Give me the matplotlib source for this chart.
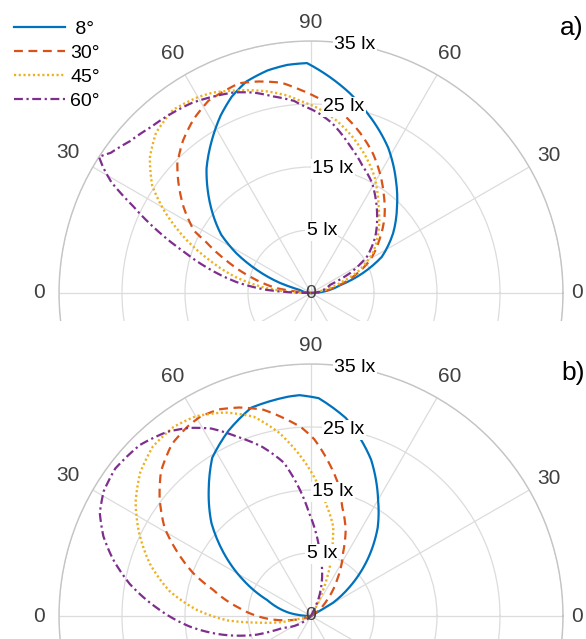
import numpy as np
import matplotlib
matplotlib.use("Agg")
import matplotlib.pyplot as plt
from matplotlib.patches import Rectangle
from matplotlib.lines import Line2D

plt.rcParams['font.family'] = ['Liberation Sans', 'DejaVu Sans']

# ---------------- data (angle in degrees, illuminance in lx) ----------------
series_labels = [' 8°', '30°', '45°', '60°']

# panel a)
a_theta_8 = [0, 15, 21, 27, 36, 45, 53, 62, 72, 79, 91, 96, 101, 107, 112, 117,
             123, 130, 135, 141, 147, 152, 157, 162, 165, 180]
a_lux_8 = [-5, -0.2, 3.8, 7.6, 11.1, 14.3, 17.4, 21.1, 24.7, 27.3, 31.5, 31.4,
           31.0, 30.1, 28.6, 26.6, 23.9, 20.8, 18.2, 15.1, 12.0, 8.4, 4.3, 0.2, -3.2, -5]

a_theta_30 = [0, 13, 21, 29, 38, 46, 54, 60, 66, 73, 80, 88, 93, 98, 104, 109, 113,
              118, 124, 130, 136, 140, 146, 152, 154, 159, 165, 172, 175, 180]
a_lux_30 = [-5, -1.4, 2.1, 5.7, 8.8, 11.8, 14.6, 16.9, 19.2, 21.6, 23.9, 26.0, 27.3,
            28.7, 29.6, 30.2, 29.9, 29.6, 28.3, 26.6, 24.5, 22.5, 19.4, 16.0, 13.6,
            9.4, 5.0, 0.5, -3.3, -5]

a_theta_45 = [0, 10, 19, 25, 33, 42, 51, 57, 61, 68, 75, 82, 88, 93, 97, 103, 112,
              116, 120, 127, 134, 140, 146, 151, 157, 162, 168, 173, 180]
a_lux_45 = [-5, -4.0, -0.1, 3.4, 6.7, 9.4, 12.1, 14.3, 15.9, 18.3, 20.6, 22.8, 24.4,
            25.5, 26.6, 27.9, 29.6, 30.4, 30.9, 31.4, 30.4, 28.4, 25.4, 21.5, 16.4,
            12.0, 7.3, 2.8, -5]

a_theta_60 = [0, 23, 27, 33, 41, 49, 56, 61, 68, 75, 83, 88, 93, 95, 101, 106, 111,
              117, 122, 128, 134, 140, 145, 147.3, 149, 151, 154, 158, 162, 167, 172,
              176, 180]
a_lux_60 = [-5, -1.7, 2.0, 5.6, 8.5, 11.0, 13.3, 15.0, 16.8, 19.1, 22.2, 23.7, 24.9,
            25.6, 26.8, 28.1, 29.1, 29.9, 30.6, 31.1, 31.6, 32.5, 33.8, 35.0, 33.4,
            31.2, 26.4, 21.2, 16.2, 11.3, 6.6, 2.0, -5]

# panel b)
b_theta_8 = [30, 31, 37, 45, 53, 60, 69, 80, 88, 93, 96, 106, 114, 122, 129, 137,
             144, 152, 160, 172, 180]
b_lux_8 = [-5, -0.9, 2.7, 7.7, 12.6, 16.3, 21.6, 26.9, 29.6, 30.1, 30.0, 29.4, 27.2,
           24.6, 20.8, 16.6, 12.2, 7.2, 2.4, -1.6, -5]

b_theta_30 = [30, 45, 54, 63, 68, 74, 79, 84, 89, 93, 97, 103, 109, 114, 119, 123,
              129, 136, 142, 149, 154, 160, 165, 173, 181, 190, 200]
b_lux_30 = [-5, -1.4, 2.0, 6.2, 9.7, 13.0, 16.8, 19.9, 23.1, 25.0, 26.4, 28.6, 30.0,
            30.9, 31.2, 30.9, 30.1, 28.1, 25.5, 22.1, 18.8, 14.9, 11.1, 6.8, 3.1,
            -1.1, -5]

b_theta_45 = [58, 65, 69, 74, 76, 82, 88, 94, 100, 106, 113, 120, 126, 133, 140,
              147, 154, 162, 170, 177, 183, 187, 192, 194, 200]
b_lux_45 = [-5, -0.5, 3.3, 7.6, 9.6, 12.7, 16.6, 20.6, 24.6, 27.9, 30.1, 31.6, 32.1,
            31.8, 30.4, 28.2, 25.4, 21.9, 17.8, 13.1, 8.3, 3.6, -0.5, -3.7, -5]

b_theta_60 = [63, 66, 74, 82, 87, 91, 95, 100, 106, 112, 118, 123, 128, 135, 143,
              149, 154, 159, 164, 170, 177, 185, 192, 199, 203, 225]
b_lux_60 = [-5, -2.2, 1.4, 5.1, 8.5, 11.3, 15.1, 19.7, 22.9, 25.6, 28.7, 30.6, 32.1,
            33.4, 33.9, 33.4, 32.3, 30.3, 27.7, 24.2, 19.5, 14.3, 9.3, 4.1, -0.2, -5]

ring_values = [5, 15, 25, 35]
ring_labels = ['5 lx', '15 lx', '25 lx', '35 lx']
r_min, r_max = -5, 35
angle_ticks = [0, 30, 60, 90, 120, 150, 180]
angle_labels = ['0', '30', '60', '90', '60', '30', '0']
angle_label_r = [37.2, 38.6, 38.9, 38.0, 38.9, 39.5, 38.2]

# ---------------- styling ----------------
colors = ['#0072BD', '#D95319', '#EDB120', '#7E2F8E']
styles = ['-', (0, (4, 2.5)), (0, (0.9, 1.1)), (0, (4, 1.6, 1, 1.6))]
widths = [1.6, 1.6, 1.7, 1.6]

W, H = 586, 639
fig = plt.figure(figsize=(W / 100, H / 100), dpi=100)
fig.patch.set_facecolor('white')


def polar_panel(rect, thetas, luxes, z):
    ax = fig.add_axes(rect, projection='polar')
    ax.set_zorder(z)
    ax.set_facecolor('none')
    ax.set_rlim(r_min, r_max)
    ax.set_rticks(ring_values)
    ax.set_yticklabels([])
    ax.set_thetagrids(range(0, 360, 30), labels=[''] * 12)
    ax.tick_params(length=0, pad=0)
    ax.grid(True, color='#dcdcdc', lw=0.9)
    ax.spines['polar'].set_color('#c4c4c4')
    ax.spines['polar'].set_linewidth(1.0)
    for th, lx, c, ls, lw in zip(thetas, luxes, colors, styles, widths):
        line, = ax.plot(np.deg2rad(th), lx, color=c, linestyle=ls, lw=lw, zorder=3)
        # follow the polar grid between samples instead of straight chords
        line.get_path()._interpolation_steps = 8
    for t, lab, rr in zip(angle_ticks, angle_labels, angle_label_r):
        ax.text(np.deg2rad(t), rr, lab, ha='center', va='center',
                fontsize=15, color='#404040')
    for v, lab in zip(ring_values, ring_labels):
        ax.text(np.deg2rad(80), v, lab, ha='center', va='center', fontsize=14,
                color='black', zorder=6,
                bbox=dict(fc='white', ec='none', pad=1.0))
    ax.text(0, r_min, '0', ha='center', va='center', fontsize=14,
            color='#404040', zorder=7)
    return ax


side = 504
polar_panel([59 / W, (H - 545) / H, side / W, side / H],
            [a_theta_8, a_theta_30, a_theta_45, a_theta_60],
            [a_lux_8, a_lux_30, a_lux_45, a_lux_60], 0)

# white band hides the lower half of the upper panel
fig.add_artist(Rectangle((0, 0), 1, (H - 321) / H, transform=fig.transFigure,
                         fc='white', ec='none', zorder=1))

polar_panel([59 / W, (H - 868) / H, side / W, side / H],
            [b_theta_8, b_theta_30, b_theta_45, b_theta_60],
            [b_lux_8, b_lux_30, b_lux_45, b_lux_60], 2)

handles = [Line2D([], [], color=c, linestyle=ls, lw=lw)
           for c, ls, lw in zip(colors, styles, widths)]
fig.legend(handles, series_labels, loc='upper left',
           bbox_to_anchor=(14 / W, 1 - 20 / H), frameon=False, fontsize=14,
           handlelength=2.6, handletextpad=0.3, labelspacing=0.34,
           borderpad=0, borderaxespad=0)

fig.text(572 / W, 1 - 28 / H, 'a)', fontsize=19, ha='center', va='center', zorder=3)
fig.text(573 / W, 1 - 373 / H, 'b)', fontsize=19, ha='center', va='center', zorder=3)

fig.savefig('out.png', dpi=100)
